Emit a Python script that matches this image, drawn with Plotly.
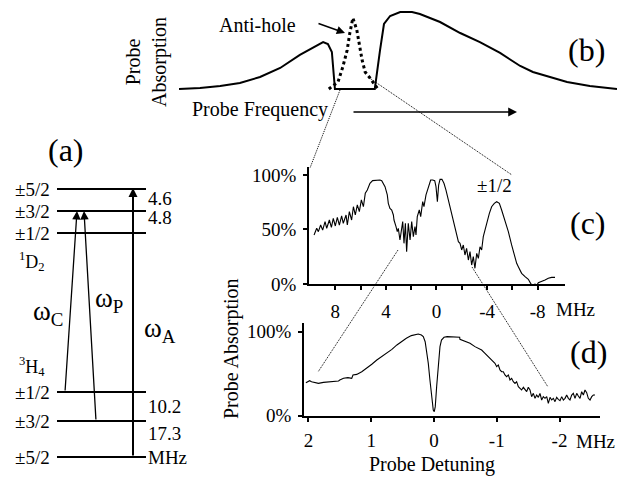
import plotly.graph_objects as go

W, H = 619, 478
FONT = "Liberation Serif, 'Times New Roman', Times, serif"

# ---------------- data ----------------
# (b) schematic probe absorption (arbitrary units)
b_freq = [0, 4.8, 9.4, 13.9, 18.5, 23.1, 27.6, 31.1, 32.9, 34.0, 34.9, 35.6, 44.7, 45.9, 46.8,
          48.2, 50.5, 53.2, 55.0, 59.6, 64.2, 68.7, 73.3, 77.9, 80.8, 84.7, 88.6, 93.8, 100]
b_abs = [0, 0.013, 0.039, 0.078, 0.156, 0.273, 0.442, 0.558, 0.61, 0.584, 0.481, 0, 0, 0.506, 0.844,
         0.948, 1.0, 1.0, 0.974, 0.870, 0.727, 0.610, 0.468, 0.299, 0.221, 0.156, 0.091, 0.039, 0]
anti_freq = [34.2, 36.3, 37.4, 38.4, 39.0, 39.7, 40.6, 41.1, 41.8, 42.5, 43.6, 45.4]
anti_abs = [0, 0.091, 0.286, 0.506, 0.727, 0.922, 0.766, 0.597, 0.377, 0.221, 0.143, 0]

# (c) hyperfine structure spectrum
c_detuning = [9.68, 9.47, 9.34, 9.16, 9.00, 8.81, 8.68, 8.47, 8.31, 8.16, 8.00, 7.84, 7.68, 7.50, 7.37,
              7.15, 7.05, 6.89, 6.71, 6.57, 6.42, 6.26, 6.10, 5.94, 5.78, 5.63, 5.47, 5.26, 5.05, 4.78,
              4.47, 4.33, 4.07, 3.89, 3.81, 3.68, 3.54, 3.41, 3.36, 3.20, 3.10, 3.02, 2.89, 2.81, 2.67,
              2.57, 2.46, 2.36, 2.23, 2.09, 1.96, 1.83, 1.70, 1.62, 1.52, 1.36, 1.25, 1.09, 0.99, 0.83,
              0.72, 0.57, 0.46, 0.30, 0.14, 0.04, -0.07, -0.17, -0.28, -0.43, -0.59, -0.75, -0.91, -1.07,
              -1.23, -1.33, -1.46, -1.59, -1.73, -1.86, -1.99, -2.12, -2.25, -2.38, -2.52, -2.65, -2.78,
              -2.91, -3.04, -3.18, -3.31, -3.44, -3.57, -3.70, -3.83, -3.97, -4.18, -4.36, -4.57, -4.76,
              -4.97, -5.15, -5.42, -5.68, -5.94, -6.13, -6.34, -6.47, -6.73, -7.00, -7.26, -7.44, -7.65,
              -7.79, -7.92, -8.05, -8.31, -8.58, -8.84, -9.10, -9.37]
c_absorption = [45.0, 51.1, 48.0, 54.1, 49.5, 57.2, 51.1, 58.7, 52.0, 60.2, 53.2, 61.2, 54.1, 62.4, 55.7,
                63.3, 54.1, 66.4, 58.7, 70.9, 63.3, 72.5, 66.4, 77.1, 70.9, 83.2, 86.2, 92.4, 94.8, 95.4,
                95.4, 94.8, 89.3, 81.7, 74.0, 69.4, 67.9, 63.3, 58.7, 52.6, 48.0, 51.1, 40.4, 46.5, 57.2,
                37.3, 55.7, 29.7, 55.7, 40.4, 57.2, 43.4, 52.6, 45.0, 61.8, 67.9, 61.8, 75.5, 70.9, 81.7,
                86.2, 90.8, 95.4, 95.4, 94.8, 89.3, 75.5, 90.8, 96.0, 96.0, 92.4, 86.2, 78.6, 70.9,
                63.3, 58.7, 52.6, 46.5, 38.8, 37.3, 31.2, 35.8, 26.6, 32.7, 22.0, 29.7, 17.4,
                25.1, 14.4, 28.1, 23.5, 34.2, 31.2, 43.4, 49.5, 57.2, 64.8, 70.9, 74.0, 75.5,
                74.0, 67.9, 58.7, 48.0, 35.8, 26.6, 19.0, 15.9, 9.8, 6.7, 4.3, 0.6, -2.4,
                0.0, -1.5, 1.2, 2.1, 3.7, 5.2, 6.1, 6.1]

# (d) spectral hole
d_detuning = [2.04, 2.00, 1.98, 1.95, 1.90, 1.84, 1.76, 1.66, 1.52, 1.50, 1.44, 1.37, 1.31, 1.29, 1.23,
              1.15, 1.07, 0.99, 0.91, 0.83, 0.75, 0.67, 0.59, 0.52, 0.44, 0.36, 0.30, 0.25, 0.20, 0.17,
              0.14, 0.12, 0.09, 0.064, 0.037, 0.011, -0.005, -0.021, -0.043, -0.069, -0.096, -0.12,
              -0.16, -0.21, -0.28, -0.36, -0.41,
              -0.414, -0.494, -0.574, -0.653, -0.706, -0.760, -0.813, -0.866, -0.892, -0.919, -0.972,
              -0.999, -1.025, -1.052, -1.078, -1.105, -1.131, -1.158, -1.185, -1.211, -1.238, -1.264,
              -1.291, -1.317, -1.344, -1.371, -1.397, -1.424, -1.450, -1.477, -1.503, -1.530, -1.556,
              -1.583, -1.610, -1.636, -1.663, -1.689, -1.716, -1.742, -1.769, -1.796, -1.822, -1.849,
              -1.875, -1.902, -1.928, -1.955, -1.981, -2.008, -2.035, -2.061, -2.088, -2.114, -2.141,
              -2.167, -2.194, -2.220, -2.247, -2.274, -2.300, -2.327, -2.353, -2.380, -2.406, -2.433,
              -2.459, -2.486, -2.513, -2.539, -2.566]
d_absorption = [39.3, 40.5, 41.7, 40.5, 39.3, 38.5, 39.7, 40.5, 41.3, 42.5, 44.5, 45.3, 44.5, 48.5, 49.2,
                52.4, 56.4, 61.2, 66.3, 70.3, 74.2, 79.0, 84.2, 88.1, 92.1, 95.3, 96.9, 97.3, 96.1, 94.1,
                88.1, 78.2, 62.3, 42.5, 22.7, 6.8, 4.8, 10.8, 34.6, 62.3, 82.2, 90.1,
                93.3, 94.1, 94.1, 93.3, 93.3,
                90.9, 88.1, 86.2, 82.2, 80.2, 78.2, 74.2, 70.3, 68.3, 66.3, 62.3,
                58.4, 60.4, 54.4, 52.4, 52.4, 48.5, 46.5, 48.5, 42.5, 44.5, 40.5,
                38.5, 40.5, 34.6, 32.6, 30.6, 33.8, 30.6, 28.6, 33.8, 30.6, 22.7,
                26.6, 20.7, 24.6, 21.9, 26.6, 18.7, 22.7, 20.7, 22.7, 14.7, 21.9,
                18.7, 20.7, 16.7, 21.9, 19.5, 17.9, 22.7, 18.7, 20.7, 24.6, 20.7,
                18.7, 24.6, 26.6, 20.7, 26.6, 23.5, 20.7, 28.6, 24.6, 30.6, 27.4,
                20.7, 18.7, 22.7, 24.6, 24.6]

c_tickvals = [8, 4, 0, -4, -8]
c_ticktext = ["8", "4", "0", "-4", "-8"]
c_minorvals = [6, 2, -2, -6]
d_tickvals = [2, 1, 0, -1, -2]
d_ticktext = ["2", "1", "0", "-1", "-2"]
c_ytickvals = [0, 50, 100]
c_yticktext = ["0%", "50%", "100%"]
d_ytickvals = [0, 100]
d_yticktext = ["0%", "100%"]

peak_labels = ["±5/2", "±3/2", "±1/2"]
peak_detuning = [4.94, -0.12, -4.62]
peak_height = [112, 112, 90]

# (a) level diagram (schematic heights)
upper_labels = ["±5/2", "±3/2", "±1/2"]
upper_y = [268, 246, 224]
lower_labels = ["±1/2", "±3/2", "±5/2"]
lower_y = [65, 36, 0]
upper_split = ["4.6", "4.8"]
lower_split = ["10.2", "17.3", "MHz"]

# ---------------- helpers ----------------
def PX(x):
    return x / W

def PY(y):
    return 1 - y / H

fig = go.Figure()
blk = "black"

# (b)
fig.add_trace(go.Scatter(x=b_freq, y=b_abs, mode="lines", line=dict(color=blk, width=2),
                         xaxis="x3", yaxis="y3", hoverinfo="skip"))
fig.add_trace(go.Scatter(x=anti_freq, y=anti_abs, mode="lines", line=dict(color=blk, width=3, dash="3px,3px"),
                         xaxis="x3", yaxis="y3", hoverinfo="skip"))
# (c)
fig.add_trace(go.Scatter(x=c_detuning, y=c_absorption, mode="lines", line=dict(color=blk, width=1.1),
                         xaxis="x", yaxis="y", hoverinfo="skip"))
# (d)
fig.add_trace(go.Scatter(x=d_detuning, y=d_absorption, mode="lines", line=dict(color=blk, width=1.1),
                         xaxis="x2", yaxis="y2", hoverinfo="skip"))

# (a) levels
LX = [57, 146]
for yy in upper_y + lower_y:
    fig.add_trace(go.Scatter(x=LX, y=[yy, yy], mode="lines",
                             line=dict(color=blk, width=2.2 if yy == upper_y[2] else 1.8),
                             xaxis="x4", yaxis="y4", hoverinfo="skip"))

ann = []
F = lambda s: dict(family=FONT, size=s, color=blk)

# level labels
for lab, yy in zip(upper_labels + lower_labels, upper_y + lower_y):
    ann.append(dict(x=52, y=yy, xref="x4", yref="y4", text=lab, showarrow=False,
                    xanchor="right", yanchor="middle", font=F(19)))
# splittings
split_y = [(upper_y[0] + upper_y[1]) / 2 + 2, (upper_y[1] + upper_y[2]) / 2 + 5,
           (lower_y[0] + lower_y[1]) / 2, (lower_y[1] + lower_y[2]) / 2 + 6, lower_y[2]]
for lab, yy in zip(upper_split + lower_split, split_y):
    ann.append(dict(x=146, y=yy, xref="x4", yref="y4", text=lab, showarrow=False,
                    xanchor="left", yanchor="middle", font=F(19)))

# transitions
trans = [(65, lower_y[0], 77, upper_y[1], 1.3, 1.3),
         (96, lower_y[1], 84, upper_y[1], 1.3, 1.3),
         (133, lower_y[2], 133, upper_y[0] + 1, 2.0, 0.9)]
for x0, y0, x1, y1, w, s in trans:
    ann.append(dict(x=x1, y=y1, ax=x0, ay=y0, xref="x4", yref="y4", axref="x4", ayref="y4",
                    text="", showarrow=True, arrowhead=2, arrowwidth=w, arrowsize=s,
                    arrowcolor=blk, standoff=0, startstandoff=0))

ann += [
    dict(x=32, y=196, xref="x4", yref="y4", text="<sup>1</sup>D<sub>2</sub>", showarrow=False,
         yanchor="middle", font=F(18)),
    dict(x=32, y=91, xref="x4", yref="y4", text="<sup>3</sup>H<sub>4</sub>", showarrow=False,
         yanchor="middle", font=F(18)),
    dict(x=48, y=144, xref="x4", yref="y4", text="ω<sub>C</sub>", showarrow=False, font=F(27)),
    dict(x=109, y=157, xref="x4", yref="y4", text="ω<sub>P</sub>", showarrow=False, font=F(27)),
    dict(x=142, y=127, xref="x4", yref="y4", text="ω<sub>A</sub>", showarrow=False,
         xanchor="left", yanchor="middle", font=F(27)),
]


def paper_text(x, y, text, size, xanchor="center", **kw):
    return dict(x=PX(x), y=PY(y), xref="paper", yref="paper", text=text, showarrow=False,
                xanchor=xanchor, yanchor="middle", font=F(size), **kw)


# panel letters
for t, (x, y) in {"(a)": (66, 150), "(b)": (586, 50), "(c)": (588, 223), "(d)": (588, 352)}.items():
    ann.append(paper_text(x, y, t, 32))

# (b) texts and arrows
ann += [
    paper_text(257, 25, "Anti-hole", 20),
    dict(x=PX(345), y=PY(33), xref="paper", yref="paper", ax=-28, ay=-10, text="", showarrow=True,
         arrowhead=2, arrowwidth=1.5, arrowsize=1.1, arrowcolor=blk, standoff=0),
    paper_text(147, 62, "Probe<br>Absorption", 20, textangle=-90),
    paper_text(190, 109, "Probe Frequency", 20, xanchor="left"),
    dict(x=PX(517), y=PY(112), xref="paper", yref="paper", ax=-165, ay=0, text="", showarrow=True,
         arrowhead=2, arrowwidth=1.6, arrowsize=1.1, arrowcolor=blk, standoff=0),
]

# (c) peak labels
for lab, xx, yy in zip(peak_labels, peak_detuning, peak_height):
    ann.append(dict(x=xx, y=yy, xref="x", yref="y", text=lab, showarrow=False,
                    xanchor="center", yanchor="middle", font=F(19)))

# MHz units and axis titles
ann += [
    paper_text(554, 309, "MHz", 19, xanchor="left"),
    paper_text(574, 441, "MHz", 19, xanchor="left"),
    paper_text(432, 464, "Probe Detuning", 20),
    paper_text(231, 349, "Probe Absorption", 20, textangle=-90),
]

# connector lines between panels
connectors = [((340, 90), (310, 168)), ((368, 77), (512, 175)),
              ((398, 250), (318, 372)), ((472, 267), (548, 387))]
shapes = []
for (x0, y0), (x1, y1) in connectors:
    shapes.append(dict(type="line", xref="paper", yref="paper", x0=PX(x0), y0=PY(y0), x1=PX(x1), y1=PY(y1),
                       line=dict(color=blk, width=1, dash="1px,1px")))

axstyle = dict(showline=True, linecolor=blk, linewidth=1.6, ticks="outside", ticklen=4, tickwidth=1.5,
               tickcolor=blk, showgrid=False, zeroline=False, tickfont=F(19), fixedrange=True,
               automargin=False)
hidden = dict(visible=False, showgrid=False, zeroline=False, fixedrange=True, automargin=False)

fig.update_layout(
    width=W, height=H, autosize=False,
    margin=dict(l=0, r=0, t=0, b=0, pad=0, autoexpand=False),
    font=F(19),
    paper_bgcolor="white", plot_bgcolor="rgba(0,0,0,0)", showlegend=False,
    xaxis=dict(domain=[PX(309), PX(565)], range=[10.08, -10.16], anchor="y",
               tickmode="array", tickvals=c_tickvals, ticktext=c_ticktext, ticklabelstandoff=5,
               minor=dict(tickmode="array", tickvals=c_minorvals, ticks="outside", ticklen=4,
                          tickwidth=1.5, tickcolor=blk, showgrid=False),
               **axstyle),
    yaxis=dict(domain=[PY(284), PY(166.7)], range=[0, 107.6], anchor="x",
               tickmode="array", tickvals=c_ytickvals, ticktext=c_yticktext, ticklabelstandoff=3, **axstyle),
    xaxis2=dict(domain=[PX(304), PX(600)], range=[2.07, -2.645], anchor="y2",
                tickmode="array", tickvals=d_tickvals, ticktext=d_ticktext, ticklabelstandoff=3, **axstyle),
    yaxis2=dict(domain=[PY(415.7), PY(322.7)], range=[0, 110.7], anchor="x2",
                tickmode="array", tickvals=d_ytickvals, ticktext=d_yticktext, ticklabelstandoff=3, **axstyle),
    xaxis3=dict(domain=[PX(179), PX(617)], range=[0, 100], anchor="y3", **hidden),
    yaxis3=dict(domain=[PY(95), PY(8)], range=[-0.078, 1.052], anchor="x3", **hidden),
    xaxis4=dict(domain=[0, PX(200)], range=[0, 200], anchor="y4", **hidden),
    yaxis4=dict(domain=[0, PY(130)], range=[-21, 327], anchor="x4", **hidden),
    annotations=ann, shapes=shapes,
)

fig.write_html("out.html")
